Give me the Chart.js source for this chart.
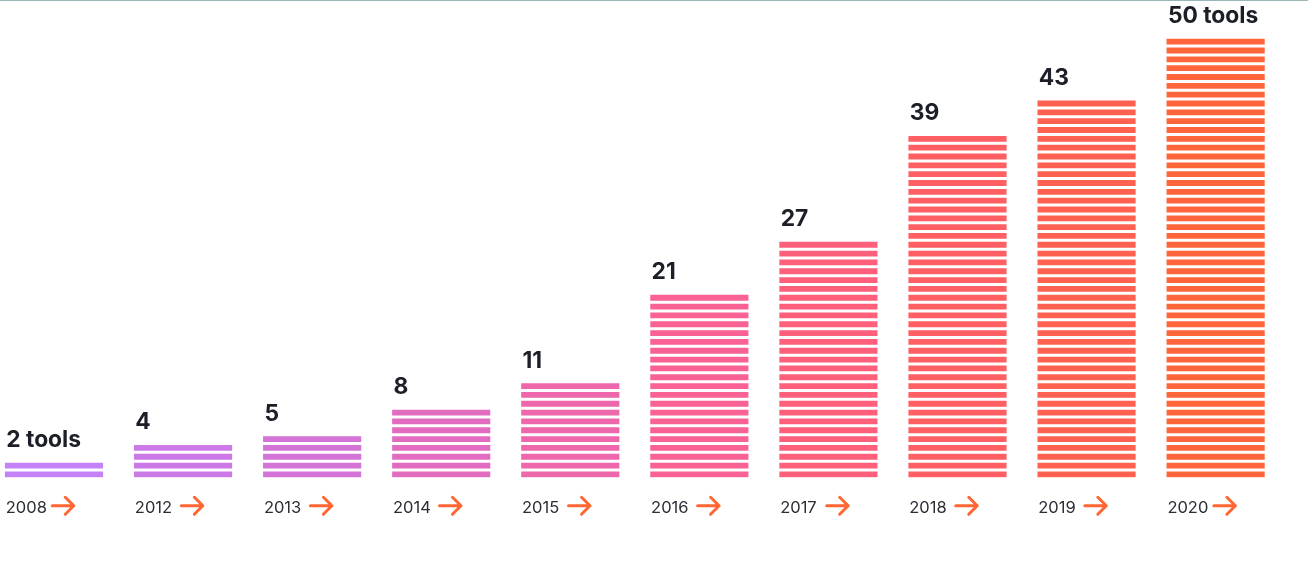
<!DOCTYPE html>
<html>
<head>
<meta charset="utf-8">
<script src="https://cdn.jsdelivr.net/npm/chart.js@4/dist/chart.umd.min.js"></script>
<style>
  html, body { margin: 0; padding: 0; background: #ffffff; }
  body { width: 1308px; height: 587px; overflow: hidden; position: relative; }
  #topline { position: absolute; left: 0; top: 0; width: 1308px; height: 1px; background: #9ab7b8; }
  #wrap { position: absolute; left: 0; top: 0; width: 1308px; height: 587px; }
</style>
</head>
<body>
<div id="wrap"><canvas id="c" width="1308" height="587"></canvas></div>
<div id="topline"></div>
<script>
// ---- data ----
const years = ['2008', '2012', '2013', '2014', '2015', '2016', '2017', '2018', '2019', '2020'];
const toolCounts = [2, 4, 5, 8, 11, 21, 27, 39, 43, 50];
const valueLabels = ['2 tools', '4', '5', '8', '11', '21', '27', '39', '43', '50 tools'];

// ---- styles ----
const barColors = ['#c481f8', '#ca79e6', '#d374d6', '#e26cc0', '#ee67aa', '#f96292', '#fe5f7b', '#ff5f63', '#ff6150', '#ff653a'];
const STRIPE = 0.66;        // share of each unit that is coloured
const ARROW_COLOR = '#ff6633';

const stripePlugin = {
  id: 'stripes',
  beforeDatasetsDraw(chart) {
    const ctx = chart.ctx, y = chart.scales.y;
    const meta = chart.getDatasetMeta(0);
    ctx.save();
    ctx.beginPath();
    meta.data.forEach((bar, i) => {
      const left = bar.x - bar.width / 2 - 2;
      const w = bar.width + 4;
      for (let k = 0; k < toolCounts[i]; k++) {
        const bottom = y.getPixelForValue(k) + (k === 0 ? 2 : 0);
        const top = y.getPixelForValue(k + STRIPE);
        ctx.rect(left, top, w, bottom - top);
      }
    });
    ctx.clip();
  },
  afterDatasetsDraw(chart) {
    chart.ctx.restore();
    const ctx = chart.ctx, y = chart.scales.y;
    const meta = chart.getDatasetMeta(0);
    ctx.save();
    meta.data.forEach((bar, i) => {
      const left = bar.x - bar.width / 2;
      const v = toolCounts[i];
      const visualTop = y.getPixelForValue(v - 1 + STRIPE);
      // value label
      ctx.fillStyle = '#1c1f27';
      ctx.font = '700 22.8px Inter';
      ctx.textAlign = 'left';
      ctx.textBaseline = 'alphabetic';
      ctx.fillText(valueLabels[i], left + 1, visualTop - 15.5);
      // year label
      ctx.fillStyle = '#2b2e35';
      ctx.font = '400 16.5px Inter';
      ctx.fillText(years[i], left + 0.5, 512.5);
      // arrow
      const ax = left + 47, ay = 505.8, len = 21.5, head = 8.5;
      ctx.strokeStyle = ARROW_COLOR;
      ctx.lineWidth = 3;
      ctx.lineCap = 'round';
      ctx.lineJoin = 'round';
      ctx.beginPath();
      ctx.moveTo(ax, ay);
      ctx.lineTo(ax + len, ay);
      ctx.moveTo(ax + len - head, ay - head);
      ctx.lineTo(ax + len, ay);
      ctx.lineTo(ax + len - head, ay + head);
      ctx.stroke();
    });
    ctx.restore();
  }
};

new Chart(document.getElementById('c'), {
  type: 'bar',
  data: {
    datasets: [{
      data: toolCounts.map((v, i) => ({ x: i, y: v })),
      backgroundColor: barColors,
      borderWidth: 0,
      barThickness: 97.5
    }]
  },
  options: {
    responsive: false,
    animation: false,
    layout: { padding: { left: 0, right: 0, top: 0, bottom: 109.7 } },
    plugins: { legend: { display: false }, tooltip: { enabled: false } },
    scales: {
      x: {
        type: 'linear',
        offset: false,
        min: -0.4184,
        max: 9.7157,
        display: false,
        grid: { display: false }
      },
      y: {
        min: 0,
        max: 54.05,
        display: false,
        grid: { display: false }
      }
    }
  },
  plugins: [stripePlugin]
});
</script>
</body>
</html>
